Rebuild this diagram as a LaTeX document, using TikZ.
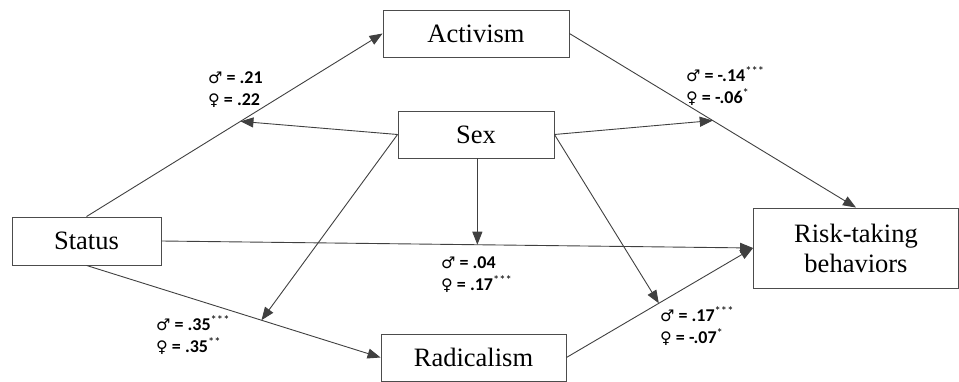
\documentclass[tikz,border=0pt]{standalone}
\usepackage{fontspec}
\setmainfont{Liberation Serif}
\newfontfamily\lblfont{Carlito}
\newfontfamily\symfont{DejaVu Sans}
\usetikzlibrary{arrows.meta}

\newcommand{\msym}{{\symfont\bfseries\fontsize{16}{22}\selectfont ♂}}
\newcommand{\fsym}{{\symfont\bfseries\fontsize{16}{22}\selectfont ♀}}
\newcommand{\stars}[1]{\textsuperscript{\mdseries #1}}

\tikzset{
  box/.style={draw=black!70, line width=0.9pt, fill=white, align=center,
    font=\fontsize{26.5}{30}\selectfont, minimum height=47pt},
  link/.style={draw=black!75, line width=0.9pt, -{Triangle[length=13pt,width=10pt]}},
  coef/.style={font=\lblfont\bfseries\fontsize{18}{22}\selectfont, align=left,
    anchor=west, inner sep=0pt},
}

\begin{document}
\begin{tikzpicture}[x=1pt,y=-1pt]
\useasboundingbox (0,0) rectangle (959,382);

\node[box, minimum width=186pt] (activism) at (476,33.5) {Activism};
\node[box, minimum width=156pt] (sex) at (476,134.5) {Sex};
\node[box, minimum width=149pt, minimum height=48pt] (status) at (86.5,241) {Status};
\node[box, minimum width=185pt] (radicalism) at (473.5,357.5) {Radicalism};
\node[box, minimum width=205pt, minimum height=80pt] (risk) at (856,248) {Risk-taking\\behaviors};

% direct paths
\draw[link] (status.north) -- (activism.west) coordinate[pos=0.52] (sa);
\draw[link] (status.east) -- (risk.west) coordinate[pos=0.534] (sr);
\draw[link] (status.south) -- (radicalism.west) coordinate[pos=0.595] (sd);
\draw[link] (activism.east) -- (risk.north) coordinate[pos=0.5] (ar);
\draw[link] (radicalism.east) -- (risk.west) coordinate[pos=0.495] (dr);

% moderation by sex
\draw[link] (sex.west) -- (sa);
\draw[link] (sex.west) -- (sd);
\draw[link] (sex.east) -- (ar);
\draw[link] (sex.east) -- (dr);
\draw[link] (sr |- sex.south) -- (sr);

\node[coef] (c1) at (208,90) {\msym{} = .21\\\fsym{} = .22};
\node[coef] (c2) at (686,86) {\msym{} = -.14\stars{***}\\\fsym{} = -.06\stars{*}};
\node[coef] (c3) at (441,275) {\msym{} = .04\\\fsym{} = .17\stars{***}};
\node[coef] (c4) at (156,335) {\msym{} = .35\stars{***}\\\fsym{} = .35\stars{**}};
\node[coef] (c5) at (660,326) {\msym{} = .17\stars{***}\\\fsym{} = -.07\stars{*}};

\end{tikzpicture}
\end{document}
